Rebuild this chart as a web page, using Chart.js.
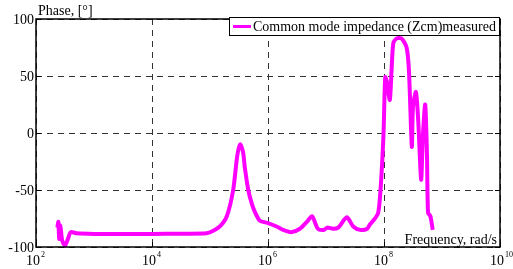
<!DOCTYPE html>
<html>
<head>
<meta charset="utf-8">
<script src="https://cdn.jsdelivr.net/npm/chart.js@4/dist/chart.umd.min.js"></script>
<style>
  html, body { margin: 0; padding: 0; background: #fff; }
  #wrap { width: 513px; height: 269px; }
</style>
</head>
<body>
<div id="wrap"><canvas id="mycanvas" width="513" height="269"></canvas></div>
<script>
// data: frequency in rad/s, phase in degrees
var freq = [234, 243, 251, 263, 282, 316, 355, 398, 501, 1000, 3162, 1e4, 3.16e4,
  8.7e4, 1.12e5, 1.48e5, 1.95e5, 2.51e5, 2.95e5, 3.31e5, 3.72e5, 3.98e5, 4.57e5, 5.25e5,
  6.03e5, 7.24e5, 1e6, 1.41e6, 1.82e6, 2.51e6, 3.55e6, 4.68e6, 5.75e6, 7.24e6,
  9.12e6, 1.05e7, 1.32e7, 1.62e7, 2.29e7, 2.95e7, 3.89e7, 5.13e7, 5.75e7, 6.76e7,
  7.94e7, 8.71e7, 9.77e7, 1.05e8, 1.12e8, 1.26e8, 1.35e8, 1.45e8, 1.66e8, 2.0e8,
  2.45e8, 2.69e8, 3.02e8, 3.16e8, 3.55e8, 3.89e8, 4.37e8, 4.68e8, 5.13e8, 5.5e8,
  5.75e8, 6.31e8, 6.92e8];
var phase = [-83, -78, -93, -81, -94, -99, -93, -87, -88, -88.5, -88.5, -88.5, -88.3,
  -88, -86, -82, -73, -50, -20, -10, -17, -30, -50, -62,
  -70, -77, -79, -82, -85, -87, -84, -78, -73, -84,
  -85, -83, -84, -83, -74, -82, -85, -84, -80, -76,
  -70, -50, -3, 49, 45, 29, 55, 79, 83, 83,
  75, 55, -12, 23, 36, 11, -41, -3, 25, -18,
  -70, -73, -85];

var seriesName = 'Common mode impedance (Zcm)measured';
var xTicks = [1e2, 1e4, 1e6, 1e8, 1e10];
var xTickExp = ['2', '4', '6', '8', '10'];
var yTicks = [-100, -50, 0, 50, 100];
var yTitle = 'Phase, [°]';
var xTitle = 'Frequency, rad/s';

var points = [];
for (var i = 0; i < freq.length; i++) {
  points.push({ x: freq[i], y: phase[i] });
}

var serif = '"Liberation Serif", "Times New Roman", serif';

// draws frame, tick labels, axis titles and the boxed legend
var decor = {
  id: 'decor',
  afterDraw: function(chart) {
    var ctx = chart.ctx;
    var a = chart.chartArea;
    var xs = chart.scales.x, ys = chart.scales.y;
    ctx.save();

    // frame
    ctx.strokeStyle = '#000';
    ctx.lineWidth = 1.5;
    ctx.strokeRect(a.left, a.top, a.right - a.left, a.bottom - a.top);

    // small tick marks inside the frame
    ctx.lineWidth = 1;
    for (var i = 0; i < yTicks.length; i++) {
      var py = Math.round(ys.getPixelForValue(yTicks[i])) + 0.5;
      ctx.beginPath();
      ctx.moveTo(a.left, py); ctx.lineTo(a.left + 5, py);
      ctx.moveTo(a.right, py); ctx.lineTo(a.right - 5, py);
      ctx.stroke();
    }
    for (var j = 0; j < xTicks.length; j++) {
      var px = Math.round(xs.getPixelForValue(xTicks[j])) + 0.5;
      ctx.beginPath();
      ctx.moveTo(px, a.bottom); ctx.lineTo(px, a.bottom - 5);
      ctx.stroke();
    }

    ctx.fillStyle = '#000';
    // y labels
    ctx.font = '14px ' + serif;
    ctx.textAlign = 'right';
    ctx.textBaseline = 'middle';
    for (var k = 0; k < yTicks.length; k++) {
      ctx.fillText(String(yTicks[k]), a.left - 2, ys.getPixelForValue(yTicks[k]) + 1);
    }

    // x labels as 10 with superscript
    ctx.textBaseline = 'alphabetic';
    for (var m = 0; m < xTicks.length; m++) {
      var cx = xs.getPixelForValue(xTicks[m]);
      ctx.font = '14px ' + serif;
      ctx.textAlign = 'right';
      ctx.fillText('10', cx + 4, 265);
      ctx.font = '8px ' + serif;
      ctx.textAlign = 'left';
      ctx.fillText(xTickExp[m], cx + 5, 257);
    }

    // axis titles
    ctx.font = '14px ' + serif;
    ctx.textAlign = 'left';
    ctx.fillText(yTitle, a.left + 2, 15);
    ctx.textAlign = 'right';
    ctx.fillText(xTitle, a.right - 3, 244);

    // legend box
    var lx = 229, ly = 17, lw = a.right - lx, lh = 19;
    ctx.fillStyle = '#fff';
    ctx.fillRect(lx, ly, lw, lh);
    ctx.strokeStyle = '#000';
    ctx.lineWidth = 1;
    ctx.strokeRect(lx + 0.5, ly + 0.5, lw - 1, lh - 1);
    ctx.strokeStyle = '#ff00ff';
    ctx.lineWidth = 3;
    ctx.beginPath();
    ctx.moveTo(lx + 4, ly + 9.5); ctx.lineTo(lx + 22, ly + 9.5);
    ctx.stroke();
    ctx.fillStyle = '#000';
    ctx.textAlign = 'left';
    ctx.textBaseline = 'middle';
    ctx.font = '14px ' + serif;
    ctx.fillText(chart.data.datasets[0].label, lx + 24, ly + 10);

    ctx.restore();
  }
};

var chart = new Chart(document.getElementById('mycanvas'), {
  type: 'scatter',
  data: {
    datasets: [{
      label: seriesName,
      data: points,
      showLine: true,
      borderColor: '#ff00ff',
      backgroundColor: '#ff00ff',
      borderWidth: 4,
      pointRadius: 0,
      tension: 0.25,
      clip: false
    }]
  },
  options: {
    responsive: false,
    animation: false,
    layout: { padding: { left: 36, right: 13, top: 19, bottom: 22 } },
    plugins: { legend: { display: false }, tooltip: { enabled: false } },
    scales: {
      x: {
        type: 'logarithmic',
        min: 1e2, max: 1e10,
        afterBuildTicks: function(scale) {
          scale.ticks = xTicks.map(function(v) { return { value: v }; });
        },
        ticks: { display: false },
        grid: { color: '#333', lineWidth: 1, drawTicks: false },
        border: { display: false, dash: [6, 5] }
      },
      y: {
        min: -100, max: 100,
        afterBuildTicks: function(scale) {
          scale.ticks = yTicks.map(function(v) { return { value: v }; });
        },
        ticks: { display: false },
        grid: { color: '#333', lineWidth: 1, drawTicks: false },
        border: { display: false, dash: [6, 5] }
      }
    }
  },
  plugins: [decor]
});
</script>
</body>
</html>
